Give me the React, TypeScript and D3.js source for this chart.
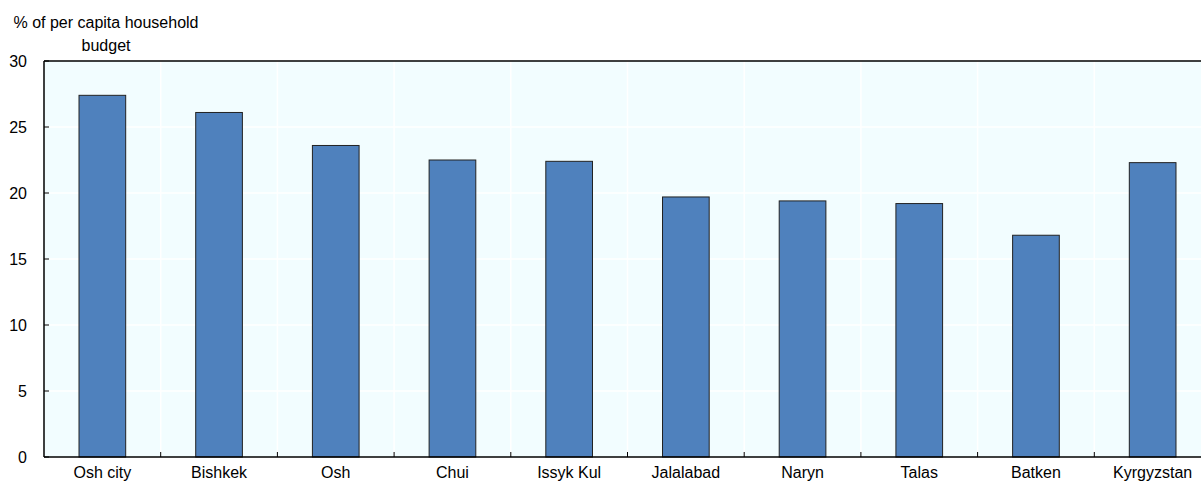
import React from "react";
import * as d3 from "d3";

const categories = ["Osh city", "Bishkek", "Osh", "Chui", "Issyk Kul", "Jalalabad", "Naryn", "Talas", "Batken", "Kyrgyzstan"];
const values = [27.4, 26.1, 23.6, 22.5, 22.4, 19.7, 19.4, 19.2, 16.8, 22.3];
const yTicks = [0, 5, 10, 15, 20, 25, 30];
const yTitle = ["% of per capita household", "budget"];

const W = 1201, H = 484;
const left = 44, right = 1211, top = 61, bottom = 457;

export default function App() {
  const x = d3.scaleBand<string>().domain(categories).range([left, right]).paddingInner(0).paddingOuter(0);
  const y = d3.scaleLinear().domain([0, 30]).range([bottom, top]);
  const bw = x.bandwidth() * 0.4;
  const font = "'Liberation Sans', Arial, sans-serif";
  return (
    <svg width={W} height={H} style={{ position: "absolute", left: 0, top: 0, display: "block" }} fontFamily={font}>
      <rect x={left} y={top} width={right - left} height={bottom - top} fill="#f2fdff" />
      {yTicks.slice(1, -1).map(t => (
        <line key={"g" + t} x1={left} x2={right} y1={y(t)} y2={y(t)} stroke="#fff" strokeWidth={1.5} />
      ))}
      {categories.slice(1).map(c => (
        <line key={"v" + c} x1={x(c)!} x2={x(c)!} y1={top} y2={bottom} stroke="#fff" strokeWidth={1.5} />
      ))}
      {categories.map((c, i) => (
        <rect key={c} x={x(c)! + (x.bandwidth() - bw) / 2} y={y(values[i])} width={bw} height={y(0) - y(values[i])}
          fill="#4f81bd" stroke="#222" strokeWidth={1} />
      ))}
      <line x1={left} x2={right} y1={top} y2={top} stroke="#000" strokeWidth={1.5} />
      <line x1={left} x2={left} y1={top} y2={bottom} stroke="#000" strokeWidth={1.5} />
      <line x1={left} x2={right} y1={bottom} y2={bottom} stroke="#000" strokeWidth={1.5} />
      {yTicks.map(t => (
        <g key={"t" + t}>
          <line x1={left} x2={left + 5} y1={y(t)} y2={y(t)} stroke="#000" strokeWidth={1} />
          <text x={27} y={y(t)} dy="0.35em" textAnchor="end" fontSize={16} fill="#000">{t}</text>
        </g>
      ))}
      {categories.slice(1).map(c => (
        <line key={"xt" + c} x1={x(c)!} x2={x(c)!} y1={bottom} y2={bottom - 5} stroke="#000" strokeWidth={1} />
      ))}
      {categories.map(c => (
        <text key={"l" + c} x={x(c)! + x.bandwidth() / 2} y={478} textAnchor="middle" fontSize={16} fill="#000">{c}</text>
      ))}
      {yTitle.map((s, i) => (
        <text key={"yt" + i} x={106} y={27.5 + i * 23} textAnchor="middle" fontSize={16} fill="#000">{s}</text>
      ))}
    </svg>
  );
}
